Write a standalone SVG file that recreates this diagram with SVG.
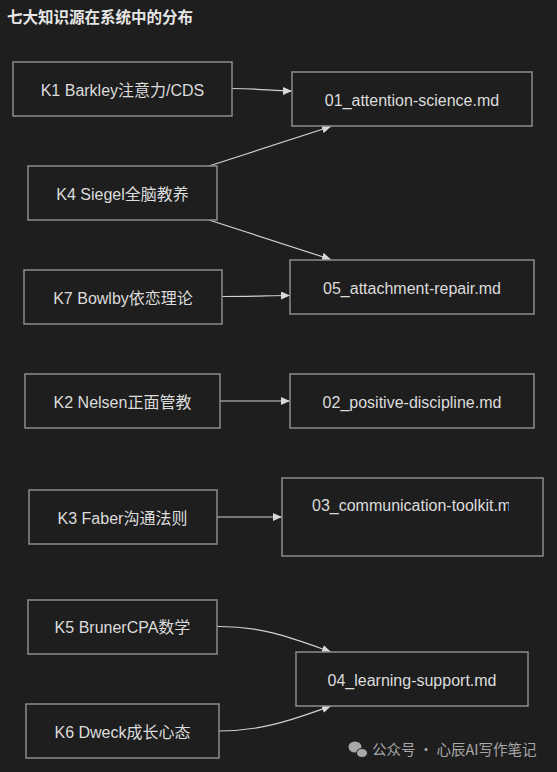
<svg xmlns="http://www.w3.org/2000/svg" width="557" height="772" viewBox="0 0 557 772">
<style>
.node rect{fill:#1e1e1e;stroke:#8c8c8c;stroke-width:1.5}
.node text{fill:#dcdcdc;font-family:"Liberation Sans","Noto Sans CJK SC",sans-serif;font-size:16px;text-anchor:middle;dominant-baseline:central}
.edge{fill:none;stroke:#d0d0d0;stroke-width:1.2}
.title{fill:#e6e6e6;font-family:"Noto Sans CJK SC","Liberation Sans",sans-serif;font-size:15.5px;font-weight:bold}
.wm{fill:#a8a8a8;font-family:"Noto Sans CJK SC","Liberation Sans",sans-serif;font-size:14.5px}
</style>
<defs>
<marker id="arr" markerUnits="userSpaceOnUse" markerWidth="9" markerHeight="8" refX="9" refY="4" orient="auto">
<path d="M0,0 L9,4 L0,8 z" fill="#d8d8d8"/>
</marker>
<clipPath id="clip03"><rect x="300" y="490" width="209" height="30"/></clipPath>
</defs>
<rect x="0" y="0" width="557" height="772" fill="#1e1e1e"/>
<text class="title" x="7" y="23">七大知识源在系统中的分布</text>

<g id="edges">
<path class="edge" d="M232,88.5 C262,88.5 272,91 292,91" marker-end="url(#arr)"/>
<path class="edge" d="M209,166 L331,126.5" marker-end="url(#arr)"/>
<path class="edge" d="M209,220 L331,259.5" marker-end="url(#arr)"/>
<path class="edge" d="M222,296.5 C255,296.5 270,295.5 290,295.5" marker-end="url(#arr)"/>
<path class="edge" d="M220,401 L290,401" marker-end="url(#arr)"/>
<path class="edge" d="M217,517 L282,517" marker-end="url(#arr)"/>
<path class="edge" d="M217,626.5 C262,626 292,638 331,652" marker-end="url(#arr)"/>
<path class="edge" d="M219,731 C262,731 292,720 331,706" marker-end="url(#arr)"/>
</g>

<g id="K1" class="node"><rect x="13" y="62" width="219" height="54"/><text x="122.5" y="90">K1 Barkley注意力/CDS</text></g>
<g id="F01" class="node"><rect x="292" y="72" width="240" height="54"/><text x="412" y="100">01_attention-science.md</text></g>
<g id="K4" class="node"><rect x="28" y="166" width="189" height="54"/><text x="122.5" y="194">K4 Siegel全脑教养</text></g>
<g id="F05" class="node"><rect x="290" y="260" width="244" height="54"/><text x="412" y="288">05_attachment-repair.md</text></g>
<g id="K7" class="node"><rect x="24" y="270" width="198" height="54"/><text x="123" y="298">K7 Bowlby依恋理论</text></g>
<g id="K2" class="node"><rect x="25" y="374" width="195" height="54"/><text x="122.5" y="402">K2 Nelsen正面管教</text></g>
<g id="F02" class="node"><rect x="290" y="374" width="244" height="54"/><text x="412" y="402">02_positive-discipline.md</text></g>
<g id="K3" class="node"><rect x="29" y="490" width="188" height="54"/><text x="122.5" y="518">K3 Faber沟通法则</text></g>
<g id="F03" class="node"><rect x="282" y="478" width="261" height="78"/><text x="312" y="505" style="text-anchor:start" clip-path="url(#clip03)">03_communication-toolkit.md</text></g>
<g id="K5" class="node"><rect x="28" y="600" width="189" height="54"/><text x="122.5" y="627.5">K5 BrunerCPA数学</text></g>
<g id="F04" class="node"><rect x="296" y="652" width="232" height="54"/><text x="412" y="680">04_learning-support.md</text></g>
<g id="K6" class="node"><rect x="26" y="704" width="193" height="54"/><text x="122.5" y="732">K6 Dweck成长心态</text></g>

<g id="watermark">
<ellipse cx="355" cy="747" rx="6.5" ry="5.5" fill="#a8a8a8"/>
<ellipse cx="362" cy="753" rx="5.5" ry="4.5" fill="#a8a8a8" stroke="#1e1e1e" stroke-width="1"/>
<text class="wm" x="372" y="755">公众号 · 心辰AI写作笔记</text>
</g>
</svg>
